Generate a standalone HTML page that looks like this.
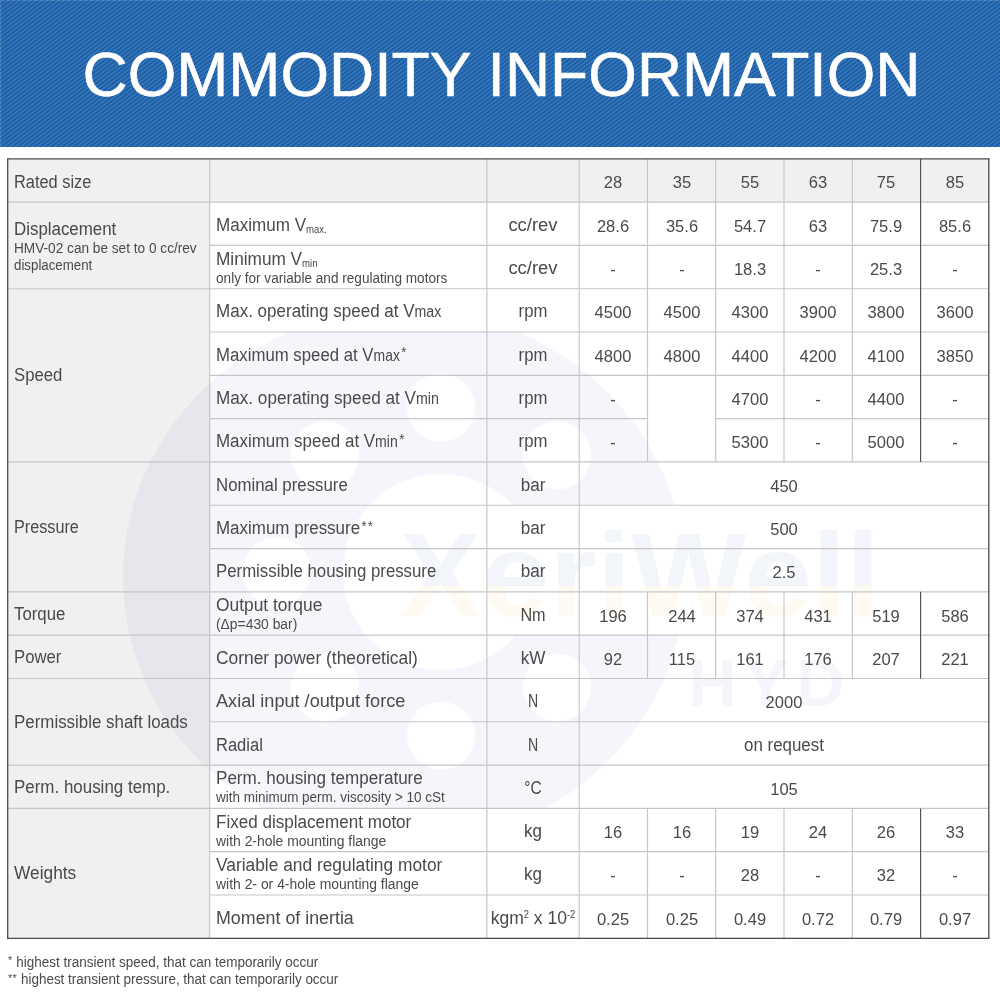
<!DOCTYPE html>
<html lang="en"><head><meta charset="utf-8"><title>Commodity Information</title>
<style>
html,body{margin:0;padding:0;background:#fff}
body{width:1000px;height:999px;position:relative;overflow:hidden;font-family:"Liberation Sans", sans-serif;color:#4a4a4a}
.hd{position:absolute;left:0;top:0;width:1000px;height:147px;background-color:#2a6bb3;
background-image:repeating-linear-gradient(143deg,#215a97 0,#215a97 0.5px,#3079c6 1.68px,#3079c6 2.18px,#215a97 3.36px);box-shadow:inset 1px 1px 0 rgba(255,255,255,.13)}
.hd h1{margin:0;position:absolute;left:0;width:1000px;text-align:center;top:38.9px;line-height:70px;font-size:62.5px;font-weight:normal;color:#fff;white-space:nowrap;-webkit-text-stroke:0.6px #fff;text-indent:3px}
.r{position:absolute}
.t{position:absolute;white-space:nowrap;line-height:24px;height:24px}
.wm{position:absolute;left:0;top:0}
</style></head><body>
<div class="hd"><h1>COMMODITY INFORMATION</h1></div>
<div class="r" style="left:7.70px;top:158.80px;width:202.00px;height:779.49px;background:#f0f0f0;"></div>
<div class="r" style="left:7.70px;top:158.80px;width:981.10px;height:43.30px;background:#f0f0f0;"></div>
<svg class="wm" width="1000" height="999" viewBox="0 0 1000 999">
<defs>
<clipPath id="wc"><rect x="0" y="331" width="1000" height="478"/></clipPath>
<mask id="wmk"><rect x="0" y="0" width="1000" height="999" fill="#fff"/>
<circle cx="441" cy="572" r="98" fill="#000"/>
<rect x="441" y="505.2" width="600" height="130" fill="#000"/><g fill="#000"><circle cx="605.0" cy="571.5" r="34"/><circle cx="557.0" cy="455.5" r="34"/><circle cx="441.0" cy="407.5" r="34"/><circle cx="325.0" cy="455.5" r="34"/><circle cx="277.0" cy="571.5" r="34"/><circle cx="325.0" cy="687.5" r="34"/><circle cx="441.0" cy="735.5" r="34"/><circle cx="557.0" cy="687.5" r="34"/></g></mask>
<linearGradient id="xg" gradientUnits="userSpaceOnUse" x1="0" y1="500" x2="0" y2="640">
<stop offset="0" stop-color="#2a56a8"/><stop offset="0.614" stop-color="#2a56a8"/><stop offset="0.614" stop-color="#f5a81c"/><stop offset="1" stop-color="#f5a81c"/></linearGradient>
</defs>
<g clip-path="url(#wc)"><ellipse cx="404" cy="577" rx="281" ry="268" fill="#2a56a8" fill-opacity="0.05" mask="url(#wmk)"/></g>
<text x="400" y="616" font-family="Liberation Sans, sans-serif" font-weight="bold" font-size="118" fill="url(#xg)" fill-opacity="0.06" textLength="480" lengthAdjust="spacingAndGlyphs">XeriWell</text>
<text x="688" y="706" font-family="Liberation Sans, sans-serif" font-weight="bold" font-size="67" letter-spacing="7.6" fill="#2a56a8" fill-opacity="0.05">HYD</text>
</svg>
<svg class="wm" width="1000" height="999" viewBox="0 0 1000 999"><line x1="7.70" y1="202.11" x2="988.80" y2="202.11" stroke="#c6c6c6" stroke-width="1.15"/><line x1="209.70" y1="245.41" x2="988.80" y2="245.41" stroke="#c6c6c6" stroke-width="1.15"/><line x1="7.70" y1="288.72" x2="988.80" y2="288.72" stroke="#c6c6c6" stroke-width="1.15"/><line x1="209.70" y1="332.02" x2="988.80" y2="332.02" stroke="#c6c6c6" stroke-width="1.15"/><line x1="209.70" y1="375.33" x2="988.80" y2="375.33" stroke="#c6c6c6" stroke-width="1.15"/><line x1="209.70" y1="418.63" x2="647.50" y2="418.63" stroke="#c6c6c6" stroke-width="1.15"/><line x1="715.70" y1="418.63" x2="988.80" y2="418.63" stroke="#c6c6c6" stroke-width="1.15"/><line x1="7.70" y1="461.94" x2="988.80" y2="461.94" stroke="#c6c6c6" stroke-width="1.15"/><line x1="209.70" y1="505.24" x2="988.80" y2="505.24" stroke="#c6c6c6" stroke-width="1.15"/><line x1="209.70" y1="548.55" x2="988.80" y2="548.55" stroke="#c6c6c6" stroke-width="1.15"/><line x1="7.70" y1="591.85" x2="988.80" y2="591.85" stroke="#c6c6c6" stroke-width="1.15"/><line x1="7.70" y1="635.15" x2="988.80" y2="635.15" stroke="#c6c6c6" stroke-width="1.15"/><line x1="7.70" y1="678.46" x2="988.80" y2="678.46" stroke="#c6c6c6" stroke-width="1.15"/><line x1="209.70" y1="721.77" x2="988.80" y2="721.77" stroke="#c6c6c6" stroke-width="1.15"/><line x1="7.70" y1="765.07" x2="988.80" y2="765.07" stroke="#c6c6c6" stroke-width="1.15"/><line x1="7.70" y1="808.38" x2="988.80" y2="808.38" stroke="#c6c6c6" stroke-width="1.15"/><line x1="209.70" y1="851.68" x2="988.80" y2="851.68" stroke="#c6c6c6" stroke-width="1.15"/><line x1="209.70" y1="894.98" x2="988.80" y2="894.98" stroke="#c6c6c6" stroke-width="1.15"/><line x1="209.70" y1="158.80" x2="209.70" y2="938.29" stroke="#c6c6c6" stroke-width="1.15"/><line x1="486.90" y1="158.80" x2="486.90" y2="938.29" stroke="#c6c6c6" stroke-width="1.15"/><line x1="579.20" y1="158.80" x2="579.20" y2="938.29" stroke="#c6c6c6" stroke-width="1.15"/><line x1="647.50" y1="158.80" x2="647.50" y2="461.94" stroke="#c6c6c6" stroke-width="1.15"/><line x1="715.70" y1="158.80" x2="715.70" y2="461.94" stroke="#c6c6c6" stroke-width="1.15"/><line x1="784.00" y1="158.80" x2="784.00" y2="461.94" stroke="#c6c6c6" stroke-width="1.15"/><line x1="852.30" y1="158.80" x2="852.30" y2="461.94" stroke="#c6c6c6" stroke-width="1.15"/><line x1="920.60" y1="158.80" x2="920.60" y2="461.94" stroke="#4a4a4a" stroke-width="1.1"/><line x1="647.50" y1="591.85" x2="647.50" y2="678.46" stroke="#c6c6c6" stroke-width="1.15"/><line x1="715.70" y1="591.85" x2="715.70" y2="678.46" stroke="#c6c6c6" stroke-width="1.15"/><line x1="784.00" y1="591.85" x2="784.00" y2="678.46" stroke="#c6c6c6" stroke-width="1.15"/><line x1="852.30" y1="591.85" x2="852.30" y2="678.46" stroke="#c6c6c6" stroke-width="1.15"/><line x1="920.60" y1="591.85" x2="920.60" y2="678.46" stroke="#4a4a4a" stroke-width="1.1"/><line x1="647.50" y1="808.38" x2="647.50" y2="938.29" stroke="#c6c6c6" stroke-width="1.15"/><line x1="715.70" y1="808.38" x2="715.70" y2="938.29" stroke="#c6c6c6" stroke-width="1.15"/><line x1="784.00" y1="808.38" x2="784.00" y2="938.29" stroke="#c6c6c6" stroke-width="1.15"/><line x1="852.30" y1="808.38" x2="852.30" y2="938.29" stroke="#c6c6c6" stroke-width="1.15"/><line x1="920.60" y1="808.38" x2="920.60" y2="938.29" stroke="#4a4a4a" stroke-width="1.1"/><line x1="7.00" y1="158.80" x2="989.50" y2="158.80" stroke="#4a4a4a" stroke-width="1.3"/><line x1="7.00" y1="938.29" x2="989.50" y2="938.29" stroke="#4a4a4a" stroke-width="1.3"/><line x1="7.70" y1="158.80" x2="7.70" y2="938.29" stroke="#4a4a4a" stroke-width="1.3"/><line x1="988.80" y1="158.80" x2="988.80" y2="938.29" stroke="#4a4a4a" stroke-width="1.3"/></svg>
<div class="t" id="t0" style="left:13.50px;transform-origin:0 50%;top:169.54px;font-size:18.8px;transform:scaleX(0.8711);">Rated size</div>
<div class="t" id="t1" style="left:13.50px;transform-origin:0 50%;top:217.09px;font-size:18.8px;transform:scaleX(0.8991);">Displacement</div>
<div class="t" id="t2" style="left:13.50px;transform-origin:0 50%;top:235.95px;font-size:14.0px;transform:scaleX(0.9742);">HMV-02 can be set to 0 cc/rev</div>
<div class="t" id="t3" style="left:13.50px;transform-origin:0 50%;top:253.15px;font-size:14.0px;transform:scaleX(0.9491);">displacement</div>
<div class="t" id="t4" style="left:13.50px;transform-origin:0 50%;top:363.41px;font-size:18.8px;transform:scaleX(0.8893);">Speed</div>
<div class="t" id="t5" style="left:13.50px;transform-origin:0 50%;top:514.98px;font-size:18.8px;transform:scaleX(0.8622);">Pressure</div>
<div class="t" id="t6" style="left:13.50px;transform-origin:0 50%;top:601.59px;font-size:18.8px;transform:scaleX(0.8931);">Torque</div>
<div class="t" id="t7" style="left:13.50px;transform-origin:0 50%;top:644.89px;font-size:18.8px;transform:scaleX(0.8883);">Power</div>
<div class="t" id="t8" style="left:13.50px;transform-origin:0 50%;top:709.85px;font-size:18.8px;transform:scaleX(0.8999);">Permissible shaft loads</div>
<div class="t" id="t9" style="left:13.50px;transform-origin:0 50%;top:774.81px;font-size:18.8px;transform:scaleX(0.9019);">Perm. housing temp.</div>
<div class="t" id="t10" style="left:13.50px;transform-origin:0 50%;top:861.42px;font-size:18.8px;transform:scaleX(0.9227);">Weights</div>
<div class="t" id="t11" style="left:215.50px;transform-origin:0 50%;top:212.84px;font-size:18.8px;transform:scaleX(0.9081);">Maximum V<span style="font-size:10.5px;position:relative;top:2px">max.</span></div>
<div class="t" id="t12" style="left:215.50px;transform-origin:0 50%;top:246.70px;font-size:18.8px;transform:scaleX(0.9166);">Minimum V<span style="font-size:10.5px;position:relative;top:2px">min</span></div>
<div class="t" id="t13" style="left:215.50px;transform-origin:0 50%;top:265.76px;font-size:14.0px;transform:scaleX(0.9713);">only for variable and regulating motors</div>
<div class="t" id="t14" style="left:215.50px;transform-origin:0 50%;top:299.45px;font-size:18.8px;transform:scaleX(0.9058);">Max. operating speed at V<span style="font-size:15.6px">max</span></div>
<div class="t" id="t15" style="left:215.50px;transform-origin:0 50%;top:342.76px;font-size:18.8px;transform:scaleX(0.8930);">Maximum speed at V<span style="font-size:15.6px">max</span><span style="font-size:14.5px;letter-spacing:1.2px;position:relative;top:-3.4px;margin-left:1.5px">*</span></div>
<div class="t" id="t16" style="left:215.50px;transform-origin:0 50%;top:386.06px;font-size:18.8px;transform:scaleX(0.9117);">Max. operating speed at V<span style="font-size:15.6px">min</span></div>
<div class="t" id="t17" style="left:215.50px;transform-origin:0 50%;top:429.37px;font-size:18.8px;transform:scaleX(0.9019);">Maximum speed at V<span style="font-size:15.6px">min</span><span style="font-size:14.5px;letter-spacing:1.2px;position:relative;top:-3.4px;margin-left:1.5px">*</span></div>
<div class="t" id="t18" style="left:215.50px;transform-origin:0 50%;top:472.67px;font-size:18.8px;transform:scaleX(0.8955);">Nominal pressure</div>
<div class="t" id="t19" style="left:215.50px;transform-origin:0 50%;top:515.98px;font-size:18.8px;transform:scaleX(0.9024);">Maximum pressure<span style="font-size:14.5px;letter-spacing:1.2px;position:relative;top:-3.4px;margin-left:1.5px">**</span></div>
<div class="t" id="t20" style="left:215.50px;transform-origin:0 50%;top:559.28px;font-size:18.8px;transform:scaleX(0.8942);">Permissible housing pressure</div>
<div class="t" id="t21" style="left:215.50px;transform-origin:0 50%;top:593.14px;font-size:18.8px;transform:scaleX(0.9255);">Output torque</div>
<div class="t" id="t22" style="left:215.50px;transform-origin:0 50%;top:612.20px;font-size:14.0px;transform:scaleX(0.9900);">(&Delta;p=430 bar)</div>
<div class="t" id="t23" style="left:215.50px;transform-origin:0 50%;top:645.89px;font-size:18.8px;transform:scaleX(0.9250);">Corner power (theoretical)</div>
<div class="t" id="t24" style="left:215.50px;transform-origin:0 50%;top:689.20px;font-size:18.8px;transform:scaleX(0.9644);">Axial input /output force</div>
<div class="t" id="t25" style="left:215.50px;transform-origin:0 50%;top:732.50px;font-size:18.8px;transform:scaleX(0.8789);">Radial</div>
<div class="t" id="t26" style="left:215.50px;transform-origin:0 50%;top:766.36px;font-size:18.8px;transform:scaleX(0.9087);">Perm. housing temperature</div>
<div class="t" id="t27" style="left:215.50px;transform-origin:0 50%;top:785.42px;font-size:14.0px;transform:scaleX(0.9627);">with minimum perm. viscosity &gt; 10 cSt</div>
<div class="t" id="t28" style="left:215.50px;transform-origin:0 50%;top:809.66px;font-size:18.8px;transform:scaleX(0.9082);">Fixed displacement motor</div>
<div class="t" id="t29" style="left:215.50px;transform-origin:0 50%;top:828.72px;font-size:14.0px;transform:scaleX(0.9945);">with 2-hole mounting flange</div>
<div class="t" id="t30" style="left:215.50px;transform-origin:0 50%;top:852.97px;font-size:18.8px;transform:scaleX(0.9237);">Variable and regulating motor</div>
<div class="t" id="t31" style="left:215.50px;transform-origin:0 50%;top:872.03px;font-size:14.0px;transform:scaleX(0.9946);">with 2- or 4-hole mounting flange</div>
<div class="t" id="t32" style="left:215.50px;transform-origin:0 50%;top:905.72px;font-size:18.8px;transform:scaleX(0.9496);">Moment of inertia</div>
<div class="t" id="t33" style="left:313.35px;width:600px;text-align:center;transform-origin:50% 50%;top:170.47px;font-size:17.4px;transform:scaleX(0.9500);">28</div>
<div class="t" id="t34" style="left:381.60px;width:600px;text-align:center;transform-origin:50% 50%;top:170.47px;font-size:17.4px;transform:scaleX(0.9500);">35</div>
<div class="t" id="t35" style="left:449.85px;width:600px;text-align:center;transform-origin:50% 50%;top:170.47px;font-size:17.4px;transform:scaleX(0.9500);">55</div>
<div class="t" id="t36" style="left:518.15px;width:600px;text-align:center;transform-origin:50% 50%;top:170.47px;font-size:17.4px;transform:scaleX(0.9500);">63</div>
<div class="t" id="t37" style="left:586.45px;width:600px;text-align:center;transform-origin:50% 50%;top:170.47px;font-size:17.4px;transform:scaleX(0.9500);">75</div>
<div class="t" id="t38" style="left:654.70px;width:600px;text-align:center;transform-origin:50% 50%;top:170.47px;font-size:17.4px;transform:scaleX(0.9500);">85</div>
<div class="t" id="t39" style="left:233.05px;width:600px;text-align:center;transform-origin:50% 50%;top:212.84px;font-size:18.8px;transform:scaleX(0.9822);">cc/rev</div>
<div class="t" id="t40" style="left:313.35px;width:600px;text-align:center;transform-origin:50% 50%;top:213.78px;font-size:17.4px;transform:scaleX(0.9500);">28.6</div>
<div class="t" id="t41" style="left:381.60px;width:600px;text-align:center;transform-origin:50% 50%;top:213.78px;font-size:17.4px;transform:scaleX(0.9500);">35.6</div>
<div class="t" id="t42" style="left:449.85px;width:600px;text-align:center;transform-origin:50% 50%;top:213.78px;font-size:17.4px;transform:scaleX(0.9500);">54.7</div>
<div class="t" id="t43" style="left:518.15px;width:600px;text-align:center;transform-origin:50% 50%;top:213.78px;font-size:17.4px;transform:scaleX(0.9500);">63</div>
<div class="t" id="t44" style="left:586.45px;width:600px;text-align:center;transform-origin:50% 50%;top:213.78px;font-size:17.4px;transform:scaleX(0.9500);">75.9</div>
<div class="t" id="t45" style="left:654.70px;width:600px;text-align:center;transform-origin:50% 50%;top:213.78px;font-size:17.4px;transform:scaleX(0.9500);">85.6</div>
<div class="t" id="t46" style="left:233.05px;width:600px;text-align:center;transform-origin:50% 50%;top:256.15px;font-size:18.8px;transform:scaleX(0.9822);">cc/rev</div>
<div class="t" id="t47" style="left:313.35px;width:600px;text-align:center;transform-origin:50% 50%;top:257.08px;font-size:17.4px;transform:scaleX(0.9500);">-</div>
<div class="t" id="t48" style="left:381.60px;width:600px;text-align:center;transform-origin:50% 50%;top:257.08px;font-size:17.4px;transform:scaleX(0.9500);">-</div>
<div class="t" id="t49" style="left:449.85px;width:600px;text-align:center;transform-origin:50% 50%;top:257.08px;font-size:17.4px;transform:scaleX(0.9500);">18.3</div>
<div class="t" id="t50" style="left:518.15px;width:600px;text-align:center;transform-origin:50% 50%;top:257.08px;font-size:17.4px;transform:scaleX(0.9500);">-</div>
<div class="t" id="t51" style="left:586.45px;width:600px;text-align:center;transform-origin:50% 50%;top:257.08px;font-size:17.4px;transform:scaleX(0.9500);">25.3</div>
<div class="t" id="t52" style="left:654.70px;width:600px;text-align:center;transform-origin:50% 50%;top:257.08px;font-size:17.4px;transform:scaleX(0.9500);">-</div>
<div class="t" id="t53" style="left:233.05px;width:600px;text-align:center;transform-origin:50% 50%;top:299.45px;font-size:18.8px;transform:scaleX(0.8900);">rpm</div>
<div class="t" id="t54" style="left:313.35px;width:600px;text-align:center;transform-origin:50% 50%;top:300.39px;font-size:17.4px;transform:scaleX(0.9500);">4500</div>
<div class="t" id="t55" style="left:381.60px;width:600px;text-align:center;transform-origin:50% 50%;top:300.39px;font-size:17.4px;transform:scaleX(0.9500);">4500</div>
<div class="t" id="t56" style="left:449.85px;width:600px;text-align:center;transform-origin:50% 50%;top:300.39px;font-size:17.4px;transform:scaleX(0.9500);">4300</div>
<div class="t" id="t57" style="left:518.15px;width:600px;text-align:center;transform-origin:50% 50%;top:300.39px;font-size:17.4px;transform:scaleX(0.9500);">3900</div>
<div class="t" id="t58" style="left:586.45px;width:600px;text-align:center;transform-origin:50% 50%;top:300.39px;font-size:17.4px;transform:scaleX(0.9500);">3800</div>
<div class="t" id="t59" style="left:654.70px;width:600px;text-align:center;transform-origin:50% 50%;top:300.39px;font-size:17.4px;transform:scaleX(0.9500);">3600</div>
<div class="t" id="t60" style="left:233.05px;width:600px;text-align:center;transform-origin:50% 50%;top:342.76px;font-size:18.8px;transform:scaleX(0.8900);">rpm</div>
<div class="t" id="t61" style="left:313.35px;width:600px;text-align:center;transform-origin:50% 50%;top:343.69px;font-size:17.4px;transform:scaleX(0.9500);">4800</div>
<div class="t" id="t62" style="left:381.60px;width:600px;text-align:center;transform-origin:50% 50%;top:343.69px;font-size:17.4px;transform:scaleX(0.9500);">4800</div>
<div class="t" id="t63" style="left:449.85px;width:600px;text-align:center;transform-origin:50% 50%;top:343.69px;font-size:17.4px;transform:scaleX(0.9500);">4400</div>
<div class="t" id="t64" style="left:518.15px;width:600px;text-align:center;transform-origin:50% 50%;top:343.69px;font-size:17.4px;transform:scaleX(0.9500);">4200</div>
<div class="t" id="t65" style="left:586.45px;width:600px;text-align:center;transform-origin:50% 50%;top:343.69px;font-size:17.4px;transform:scaleX(0.9500);">4100</div>
<div class="t" id="t66" style="left:654.70px;width:600px;text-align:center;transform-origin:50% 50%;top:343.69px;font-size:17.4px;transform:scaleX(0.9500);">3850</div>
<div class="t" id="t67" style="left:233.05px;width:600px;text-align:center;transform-origin:50% 50%;top:386.06px;font-size:18.8px;transform:scaleX(0.8900);">rpm</div>
<div class="t" id="t68" style="left:313.35px;width:600px;text-align:center;transform-origin:50% 50%;top:387.00px;font-size:17.4px;transform:scaleX(0.9500);">-</div>
<div class="t" id="t69" style="left:449.85px;width:600px;text-align:center;transform-origin:50% 50%;top:387.00px;font-size:17.4px;transform:scaleX(0.9500);">4700</div>
<div class="t" id="t70" style="left:518.15px;width:600px;text-align:center;transform-origin:50% 50%;top:387.00px;font-size:17.4px;transform:scaleX(0.9500);">-</div>
<div class="t" id="t71" style="left:586.45px;width:600px;text-align:center;transform-origin:50% 50%;top:387.00px;font-size:17.4px;transform:scaleX(0.9500);">4400</div>
<div class="t" id="t72" style="left:654.70px;width:600px;text-align:center;transform-origin:50% 50%;top:387.00px;font-size:17.4px;transform:scaleX(0.9500);">-</div>
<div class="t" id="t73" style="left:233.05px;width:600px;text-align:center;transform-origin:50% 50%;top:429.37px;font-size:18.8px;transform:scaleX(0.8900);">rpm</div>
<div class="t" id="t74" style="left:313.35px;width:600px;text-align:center;transform-origin:50% 50%;top:430.30px;font-size:17.4px;transform:scaleX(0.9500);">-</div>
<div class="t" id="t75" style="left:449.85px;width:600px;text-align:center;transform-origin:50% 50%;top:430.30px;font-size:17.4px;transform:scaleX(0.9500);">5300</div>
<div class="t" id="t76" style="left:518.15px;width:600px;text-align:center;transform-origin:50% 50%;top:430.30px;font-size:17.4px;transform:scaleX(0.9500);">-</div>
<div class="t" id="t77" style="left:586.45px;width:600px;text-align:center;transform-origin:50% 50%;top:430.30px;font-size:17.4px;transform:scaleX(0.9500);">5000</div>
<div class="t" id="t78" style="left:654.70px;width:600px;text-align:center;transform-origin:50% 50%;top:430.30px;font-size:17.4px;transform:scaleX(0.9500);">-</div>
<div class="t" id="t79" style="left:233.05px;width:600px;text-align:center;transform-origin:50% 50%;top:472.67px;font-size:18.8px;transform:scaleX(0.9096);">bar</div>
<div class="t" id="t80" style="left:484.00px;width:600px;text-align:center;transform-origin:50% 50%;top:473.61px;font-size:17.4px;transform:scaleX(0.9500);">450</div>
<div class="t" id="t81" style="left:233.05px;width:600px;text-align:center;transform-origin:50% 50%;top:515.98px;font-size:18.8px;transform:scaleX(0.9096);">bar</div>
<div class="t" id="t82" style="left:484.00px;width:600px;text-align:center;transform-origin:50% 50%;top:516.91px;font-size:17.4px;transform:scaleX(0.9500);">500</div>
<div class="t" id="t83" style="left:233.05px;width:600px;text-align:center;transform-origin:50% 50%;top:559.28px;font-size:18.8px;transform:scaleX(0.9096);">bar</div>
<div class="t" id="t84" style="left:484.00px;width:600px;text-align:center;transform-origin:50% 50%;top:560.22px;font-size:17.4px;transform:scaleX(0.9500);">2.5</div>
<div class="t" id="t85" style="left:233.05px;width:600px;text-align:center;transform-origin:50% 50%;top:602.59px;font-size:18.8px;transform:scaleX(0.8625);">Nm</div>
<div class="t" id="t86" style="left:313.35px;width:600px;text-align:center;transform-origin:50% 50%;top:603.52px;font-size:17.4px;transform:scaleX(0.9500);">196</div>
<div class="t" id="t87" style="left:381.60px;width:600px;text-align:center;transform-origin:50% 50%;top:603.52px;font-size:17.4px;transform:scaleX(0.9500);">244</div>
<div class="t" id="t88" style="left:449.85px;width:600px;text-align:center;transform-origin:50% 50%;top:603.52px;font-size:17.4px;transform:scaleX(0.9500);">374</div>
<div class="t" id="t89" style="left:518.15px;width:600px;text-align:center;transform-origin:50% 50%;top:603.52px;font-size:17.4px;transform:scaleX(0.9500);">431</div>
<div class="t" id="t90" style="left:586.45px;width:600px;text-align:center;transform-origin:50% 50%;top:603.52px;font-size:17.4px;transform:scaleX(0.9500);">519</div>
<div class="t" id="t91" style="left:654.70px;width:600px;text-align:center;transform-origin:50% 50%;top:603.52px;font-size:17.4px;transform:scaleX(0.9500);">586</div>
<div class="t" id="t92" style="left:233.05px;width:600px;text-align:center;transform-origin:50% 50%;top:645.89px;font-size:18.8px;transform:scaleX(0.9106);">kW</div>
<div class="t" id="t93" style="left:313.35px;width:600px;text-align:center;transform-origin:50% 50%;top:646.83px;font-size:17.4px;transform:scaleX(0.9500);">92</div>
<div class="t" id="t94" style="left:381.60px;width:600px;text-align:center;transform-origin:50% 50%;top:646.83px;font-size:17.4px;transform:scaleX(0.9500);">115</div>
<div class="t" id="t95" style="left:449.85px;width:600px;text-align:center;transform-origin:50% 50%;top:646.83px;font-size:17.4px;transform:scaleX(0.9500);">161</div>
<div class="t" id="t96" style="left:518.15px;width:600px;text-align:center;transform-origin:50% 50%;top:646.83px;font-size:17.4px;transform:scaleX(0.9500);">176</div>
<div class="t" id="t97" style="left:586.45px;width:600px;text-align:center;transform-origin:50% 50%;top:646.83px;font-size:17.4px;transform:scaleX(0.9500);">207</div>
<div class="t" id="t98" style="left:654.70px;width:600px;text-align:center;transform-origin:50% 50%;top:646.83px;font-size:17.4px;transform:scaleX(0.9500);">221</div>
<div class="t" id="t99" style="left:233.05px;width:600px;text-align:center;transform-origin:50% 50%;top:689.20px;font-size:18.8px;transform:scaleX(0.7512);">N</div>
<div class="t" id="t100" style="left:484.00px;width:600px;text-align:center;transform-origin:50% 50%;top:690.13px;font-size:17.4px;transform:scaleX(0.9500);">2000</div>
<div class="t" id="t101" style="left:233.05px;width:600px;text-align:center;transform-origin:50% 50%;top:732.50px;font-size:18.8px;transform:scaleX(0.7512);">N</div>
<div class="t" id="t102" style="left:484.00px;width:600px;text-align:center;transform-origin:50% 50%;top:732.50px;font-size:18.8px;transform:scaleX(0.8990);">on request</div>
<div class="t" id="t103" style="left:233.05px;width:600px;text-align:center;transform-origin:50% 50%;top:775.81px;font-size:18.8px;transform:scaleX(0.8255);">&deg;C</div>
<div class="t" id="t104" style="left:484.00px;width:600px;text-align:center;transform-origin:50% 50%;top:776.74px;font-size:17.4px;transform:scaleX(0.9500);">105</div>
<div class="t" id="t105" style="left:233.05px;width:600px;text-align:center;transform-origin:50% 50%;top:819.11px;font-size:18.8px;transform:scaleX(0.9071);">kg</div>
<div class="t" id="t106" style="left:313.35px;width:600px;text-align:center;transform-origin:50% 50%;top:820.05px;font-size:17.4px;transform:scaleX(0.9500);">16</div>
<div class="t" id="t107" style="left:381.60px;width:600px;text-align:center;transform-origin:50% 50%;top:820.05px;font-size:17.4px;transform:scaleX(0.9500);">16</div>
<div class="t" id="t108" style="left:449.85px;width:600px;text-align:center;transform-origin:50% 50%;top:820.05px;font-size:17.4px;transform:scaleX(0.9500);">19</div>
<div class="t" id="t109" style="left:518.15px;width:600px;text-align:center;transform-origin:50% 50%;top:820.05px;font-size:17.4px;transform:scaleX(0.9500);">24</div>
<div class="t" id="t110" style="left:586.45px;width:600px;text-align:center;transform-origin:50% 50%;top:820.05px;font-size:17.4px;transform:scaleX(0.9500);">26</div>
<div class="t" id="t111" style="left:654.70px;width:600px;text-align:center;transform-origin:50% 50%;top:820.05px;font-size:17.4px;transform:scaleX(0.9500);">33</div>
<div class="t" id="t112" style="left:233.05px;width:600px;text-align:center;transform-origin:50% 50%;top:862.42px;font-size:18.8px;transform:scaleX(0.9071);">kg</div>
<div class="t" id="t113" style="left:313.35px;width:600px;text-align:center;transform-origin:50% 50%;top:863.35px;font-size:17.4px;transform:scaleX(0.9500);">-</div>
<div class="t" id="t114" style="left:381.60px;width:600px;text-align:center;transform-origin:50% 50%;top:863.35px;font-size:17.4px;transform:scaleX(0.9500);">-</div>
<div class="t" id="t115" style="left:449.85px;width:600px;text-align:center;transform-origin:50% 50%;top:863.35px;font-size:17.4px;transform:scaleX(0.9500);">28</div>
<div class="t" id="t116" style="left:518.15px;width:600px;text-align:center;transform-origin:50% 50%;top:863.35px;font-size:17.4px;transform:scaleX(0.9500);">-</div>
<div class="t" id="t117" style="left:586.45px;width:600px;text-align:center;transform-origin:50% 50%;top:863.35px;font-size:17.4px;transform:scaleX(0.9500);">32</div>
<div class="t" id="t118" style="left:654.70px;width:600px;text-align:center;transform-origin:50% 50%;top:863.35px;font-size:17.4px;transform:scaleX(0.9500);">-</div>
<div class="t" id="t119" style="left:313.35px;width:600px;text-align:center;transform-origin:50% 50%;top:906.66px;font-size:17.4px;transform:scaleX(0.9500);">0.25</div>
<div class="t" id="t120" style="left:381.60px;width:600px;text-align:center;transform-origin:50% 50%;top:906.66px;font-size:17.4px;transform:scaleX(0.9500);">0.25</div>
<div class="t" id="t121" style="left:449.85px;width:600px;text-align:center;transform-origin:50% 50%;top:906.66px;font-size:17.4px;transform:scaleX(0.9500);">0.49</div>
<div class="t" id="t122" style="left:518.15px;width:600px;text-align:center;transform-origin:50% 50%;top:906.66px;font-size:17.4px;transform:scaleX(0.9500);">0.72</div>
<div class="t" id="t123" style="left:586.45px;width:600px;text-align:center;transform-origin:50% 50%;top:906.66px;font-size:17.4px;transform:scaleX(0.9500);">0.79</div>
<div class="t" id="t124" style="left:654.70px;width:600px;text-align:center;transform-origin:50% 50%;top:906.66px;font-size:17.4px;transform:scaleX(0.9500);">0.97</div>
<div class="t" id="t125" style="left:233.05px;width:600px;text-align:center;transform-origin:50% 50%;top:905.72px;font-size:18.8px;transform:scaleX(0.9330);">kgm<span style="font-size:10px;position:relative;top:-6px">2</span> x 10<span style="font-size:10px;position:relative;top:-6px">-2</span></div>
<div class="t" id="t126" style="left:8.00px;transform-origin:0 50%;top:949.95px;font-size:14.0px;transform:scaleX(0.9628);"><span style="position:relative;top:-2.5px;font-size:11px;letter-spacing:.5px">*</span> highest transient speed, that can temporarily occur</div>
<div class="t" id="t127" style="left:8.00px;transform-origin:0 50%;top:967.35px;font-size:14.0px;transform:scaleX(0.9619);"><span style="position:relative;top:-2.5px;font-size:11px;letter-spacing:.5px">**</span> highest transient pressure, that can temporarily occur</div>
</body></html>
